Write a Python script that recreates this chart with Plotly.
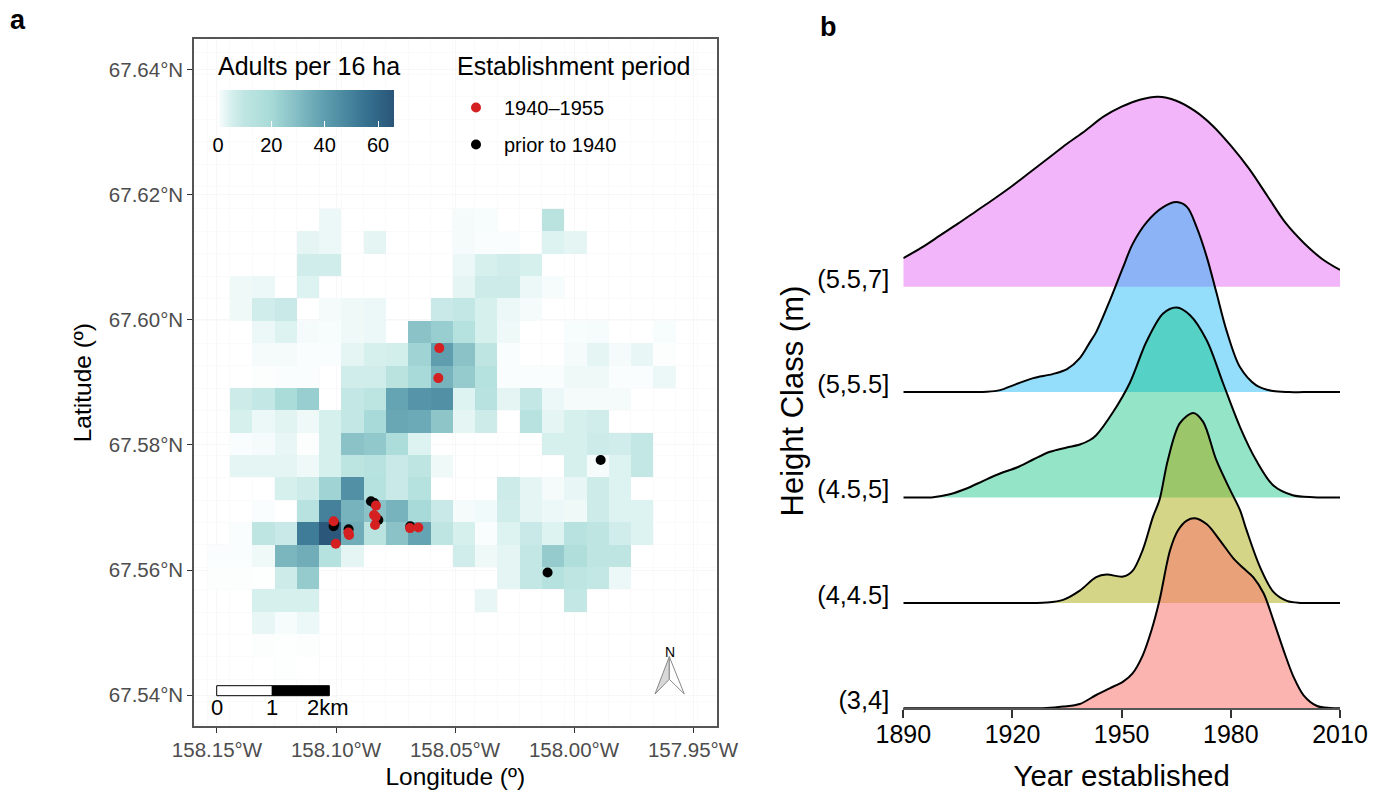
import plotly.graph_objects as go

W, H = 1386, 792

# ---------- panel a data ----------
# adults per 16 ha, rows north to south, columns west to east (None = no adults)
_ = None
adults_per_16ha = [
    [_,_,_,_,_,2,_,_,_,_,_,1,.7,_,_,12,_,_,_,_,_],
    [_,_,_,_,3,2,_,3,_,_,_,1,.5,.5,_,4,3,_,_,_,_],
    [_,_,_,_,6,6,_,_,_,_,_,2,5,6,5,_,_,_,_,_,_],
    [_,1.5,2,_,4,_,_,_,_,_,_,3,7,7,2,.8,_,_,_,_,_],
    [_,1.5,6,8,_,1,1.5,2,_,_,8,9,5,2,1,_,_,_,_,_,_],
    [_,_,2,4,1,.7,1.5,2,_,28,24,14,5,1.5,_,_,.7,.8,_,_,.7],
    [_,_,1,1,.5,.5,3,5,5.5,22,40,28,10,.5,_,_,1,3,1,2.5,.3],
    [_,_,.3,.5,.5,_,6,6,12,20,33,25,14,.5,.5,.5,1.5,1.5,.5,.5,2],
    [_,7,9,19,24,_,9,11,38,43,45,4,13,3,9,2,1,1,1,_,_],
    [_,5,2,3.5,1.5,5,9,20,37,36,27,3,7,_,13,3,5,6,_,_,_],
    [_,.5,1,2.5,.3,5,28,26,18,4,_,_,_,_,_,5,5,7,6,9,_],
    [_,3,3,3,1.5,5,11,13,8,10,1.5,_,_,_,_,_,5,1,4,9,_],
    [_,_,_,5,7,22,45,14,8,14,_,_,_,7,3,1,2.5,7,4,_,_],
    [_,_,.5,_,13,50,33,28,33,20,8,1,1.2,6,3,2,1.5,7,4,4,_],
    [_,.5,10,8,52,65,35,12,28,38,10,5,.5,4,8,4,13,10,6,4,_],
    [.5,.5,1.5,32,35,14,3,_,_,_,_,6,1.5,3,9,25,17,10,10,_,_],
    [.3,.3,.2,7,25,_,_,_,_,_,_,_,_,3,9,14,10,9,2,_,_],
    [_,_,5,5,5,_,_,_,_,_,_,_,2.5,_,_,_,9,_,_,_,_],
    [_,_,2.5,.8,2,_,_,_,_,_,_,_,_,_,_,_,_,_,_,_,_],
    [_,_,.3,.2,.3,_,_,_,_,_,_,_,_,_,_,_,_,_,_,_,_],
    [_,_,_,.2,_,_,_,_,_,_,_,_,_,_,_,_,_,_,_,_,_],
]
cell_lon_start = -158.1492
cell_lon_step = 0.009357
cell_lat_south = 67.5443
cell_lat_step = 0.003584

lon_1940_1955 = [
    -158.0566, -158.0570, -158.1010, -158.1001, -158.0948, -158.0945,
    -158.0832, -158.0840, -158.0833, -158.0836, -158.0689, -158.0654]
lat_1940_1955 = [
    67.5955, 67.5907, 67.5678, 67.5642, 67.5660, 67.5656,
    67.5703, 67.5688, 67.5685, 67.5672, 67.5667, 67.5668]
lon_prior_1940 = [
    -158.1010, -158.1007, -158.0947, -158.0853, -158.0839, -158.0822,
    -158.0688, -158.0111, -157.9888]
lat_prior_1940 = [
    67.5670, 67.5674, 67.5665, 67.5710, 67.5707, 67.5680,
    67.5670, 67.5596, 67.5776]

# ---------- panel b data ----------
height_classes = ["(3,4]", "(4,4.5]", "(4.5,5]", "(5,5.5]", "(5.5,7]"]
ridge_spacing = 105.4

yr_pink = [1890,1895,1900,1905,1910,1915,1920,1925,1930,1935,1940,1945,1950,1955,1960,1965,1970,1975,1980,1985,1990,1995,2000,2005,2010]
d_pink = [28.5,39,51,63,75.5,88,101,115,129,143,156,170,180,187,190,186,176,161,141,118,91,64,44,28,16.7]

yr_blue = [1890,1900,1909,1913,1916.6,1921,1925.7,1931,1935,1938.5,1941.3,1943,1946.8,1950.4,1953,1956.9,1961.4,1965.1,1968,1970.6,1973.4,1976,1978.8,1982.5,1987,1991.6,1996,2000,2010]
d_blue = [0,0,0,.3,2,8,14,18,23,34,50,60,92,125,148,170,185,190,185,165,135,100,61.7,25,6.7,1,0,0,0]

yr_green = [1890,1894,1898.2,1902.8,1907.4,1912,1916.6,1921.2,1925.7,1930.3,1934.9,1938.5,1941.3,1943,1947.7,1952.3,1956.8,1961.4,1965.1,1968.8,1973.4,1977.9,1982.5,1987,1991.7,1997,2002.7,2006,2010]
d_green = [0,0,.3,3.3,9,16.7,24,30,38,45.7,50,53,57.5,62.3,85.7,115,155.7,184,190,182.3,157,114,70.7,37,12,2.3,.3,0,0]

yr_olive = [1890,1910,1925,1929.4,1933.9,1938.5,1943,1945.9,1950.4,1953,1955.8,1958.6,1960.4,1962.7,1966,1969.7,1972.4,1976,1979.8,1982.5,1984.3,1988,1991.7,1995.4,1999,2003,2010]
d_olive = [0,0,0,.3,3,12.3,25.7,28.3,26.3,32,53,86,103,143,179.7,190,181,143,113,93,73,36,11,2,0,0,0]

yr_red = [1890,1910,1925,1929.4,1933.9,1938.5,1943,1946.7,1950.4,1953,1955.8,1958.2,1960.4,1963.3,1965.5,1967.9,1970.1,1973.4,1977,1980.7,1983.5,1986.2,1989,1991.7,1994.5,1997.2,2000,2003.7,2007.3,2010]
d_red = [0,0,0,.2,1.7,4.3,13.3,20,26.7,35,53,78,108,158,178,187.7,190,184,168,150,140,131,115,88,58,31.7,13,2.3,.3,0]

ridges = [
    (yr_pink, d_pink, "rgba(231,107,243,0.5)", 4),
    (yr_blue, d_blue, "rgba(0,176,246,0.42)", 3),
    (yr_green, d_green, "rgba(0,191,125,0.42)", 2),
    (yr_olive, d_olive, "rgba(163,165,0,0.47)", 1),
    (yr_red, d_red, "rgba(248,118,109,0.55)", 0),
]

# ---------- styling ----------
FONT = "Liberation Sans"
def fx(px): return px / W
def fy(py): return 1 - py / H

fig = go.Figure()

colorscale = [[0, "#FFFFFF"], [0.02, "#F0FAF9"], [0.08, "#D4EFED"], [0.15, "#BFE5E2"],
              [0.3, "#A8DBD8"], [0.6, "#5F9FB0"], [0.85, "#35708F"], [1, "#2A5578"]]
fig.add_trace(go.Heatmap(
    z=adults_per_16ha[::-1],
    x0=cell_lon_start, dx=cell_lon_step,
    y0=cell_lat_south, dy=cell_lat_step,
    zmin=0, zmax=66, colorscale=colorscale, hoverongaps=False,
    xaxis="x", yaxis="y",
    colorbar=dict(
        orientation="h", x=fx(218), xanchor="left", y=fy(162), yanchor="bottom",
        lenmode="pixels", len=176, thickness=37, xpad=0, ypad=0, outlinewidth=0,
        tickmode="array", tickvals=[0, 20, 40, 60],
        ticks="inside", ticklen=6, tickwidth=1, tickcolor="white",
        tickfont=dict(size=20, color="black", family=FONT),
    ),
))

fig.add_trace(go.Scatter(
    x=lon_prior_1940, y=lat_prior_1940, mode="markers", name="prior to 1940",
    marker=dict(color="black", size=10), legendgroup="b", legendrank=2, xaxis="x", yaxis="y"))
fig.add_trace(go.Scatter(
    x=lon_1940_1955, y=lat_1940_1955, mode="markers", name="1940\u20131955",
    marker=dict(color="#D42020", size=10), legendgroup="a", legendrank=1, xaxis="x", yaxis="y"))

for yrs, dens, col, rank in ridges:
    base = rank * ridge_spacing
    fig.add_trace(go.Scatter(x=[1890, 2010], y=[base, base], mode="lines", line=dict(width=0),
                             showlegend=False, hoverinfo="skip", xaxis="x2", yaxis="y2"))
    fig.add_trace(go.Scatter(x=yrs, y=[base + d for d in dens], mode="lines",
                             line=dict(color="black", width=2, shape="spline", smoothing=0.9),
                             fill="tonexty", fillcolor=col, showlegend=False,
                             name=height_classes[rank], xaxis="x2", yaxis="y2"))

# decorations: scale bar and north arrow
shapes = [
    dict(type="rect", xref="paper", yref="paper", x0=fx(216.7), x1=fx(272.3), y0=fy(695.7), y1=fy(685.7),
         fillcolor="white", line=dict(color="black", width=1)),
    dict(type="rect", xref="paper", yref="paper", x0=fx(272.3), x1=fx(329.3), y0=fy(695.7), y1=fy(685.7),
         fillcolor="black", line=dict(color="black", width=1)),
    dict(type="path", xref="paper", yref="paper", fillcolor="#D8D8D8", line=dict(color="#888888", width=1),
         path=f"M {fx(669.3)} {fy(656.7)} L {fx(655)} {fy(694)} L {fx(669.3)} {fy(679.3)} Z"),
    dict(type="path", xref="paper", yref="paper", fillcolor="#FFFFFF", line=dict(color="#888888", width=1),
         path=f"M {fx(669.3)} {fy(656.7)} L {fx(684.3)} {fy(694)} L {fx(669.3)} {fy(679.3)} Z"),
]

def note(text, x, y, size, **kw):
    return dict(text=text, xref="paper", yref="paper", x=fx(x), y=fy(y), showarrow=False,
                xanchor=kw.pop("xanchor", "center"), yanchor="middle",
                font=dict(size=size, color="black", family=FONT), **kw)

annotations = [
    note("<b>a</b>", 18, 20, 27),
    note("<b>b</b>", 828, 27, 27),
    note("0", 216.7, 707, 22),
    note("1", 272.3, 707, 22),
    note("2km", 328, 707, 22),
    note("N", 669.5, 652, 14),
    note("Adults per 16 ha", 216, 66, 25, xanchor="left"),
    note("Establishment period", 455, 66, 25, xanchor="left"),
    note("Height Class (m)", 792, 401.5, 31, textangle=-90),
]

fig.update_layout(
    template="none",
    width=W, height=H, margin=dict(l=0, r=0, t=0, b=0),
    paper_bgcolor="white", plot_bgcolor="white",
    font=dict(family=FONT, color="black"),
    shapes=shapes, annotations=annotations,
    legend=dict(x=fx(448), y=fy(88), xanchor="left", yanchor="top",
                bgcolor="rgba(0,0,0,0)", tracegroupgap=8, itemwidth=46,
                font=dict(size=20, family=FONT, color="black")),
    xaxis=dict(
        domain=[fx(194), fx(716.5)], range=[-158.15966, -157.94013], automargin=False,
        tickmode="array", tickvals=[-158.15, -158.10, -158.05, -158.00, -157.95],
        ticktext=["158.15\u00b0W", "158.10\u00b0W", "158.05\u00b0W", "158.00\u00b0W", "157.95\u00b0W"],
        tickfont=dict(size=20.5, color="#4D4D4D"), ticks="outside", ticklen=5, tickcolor="#333333",
        showline=True, linecolor="#555555", linewidth=1.5, mirror=True,
        showgrid=True, gridcolor="#F7F7F7", gridwidth=1, zeroline=False,
        minor=dict(showgrid=True, gridcolor="#FAFAFA", gridwidth=1, tick0=-158.1539, dtick=cell_lon_step, ticks=""),
        title=dict(text="Longitude (\u00ba)", font=dict(size=24.5), standoff=8),
    ),
    yaxis=dict(
        domain=[fy(726), fy(39.3)], range=[67.53504, 67.64491], automargin=False,
        tickmode="array", tickvals=[67.54, 67.56, 67.58, 67.60, 67.62, 67.64],
        ticktext=["67.54\u00b0N", "67.56\u00b0N", "67.58\u00b0N", "67.60\u00b0N", "67.62\u00b0N", "67.64\u00b0N"],
        tickfont=dict(size=20.5, color="#4D4D4D"), ticks="outside", ticklen=5, tickcolor="#333333",
        showline=True, linecolor="#555555", linewidth=1.5, mirror=True,
        showgrid=True, gridcolor="#F7F7F7", gridwidth=1, zeroline=False,
        minor=dict(showgrid=True, gridcolor="#FAFAFA", gridwidth=1, tick0=67.5425, dtick=cell_lat_step, ticks=""),
        title=dict(text="Latitude (\u00ba)", font=dict(size=24.5), standoff=10),
    ),
    xaxis2=dict(
        domain=[fx(903.3), fx(1340)], range=[1890, 2010], anchor="y2", automargin=False,
        tickmode="array", tickvals=[1890, 1920, 1950, 1980, 2010],
        tickfont=dict(size=25), ticks="outside", ticklen=8, tickcolor="#333333", tickwidth=1.5,
        ticklabelstandoff=-5,
        showline=True, linecolor="#555555", linewidth=1.5, showgrid=False, zeroline=False,
        title=dict(text="Year established", font=dict(size=29.4), standoff=18),
    ),
    yaxis2=dict(
        domain=[fy(708.3), fy(60)], range=[0, 648.3], anchor="x2", automargin=False,
        tickmode="array", tickvals=[i * ridge_spacing + 8 for i in range(5)], ticktext=height_classes,
        tickfont=dict(size=25.4), ticks="outside", ticklen=8, tickcolor="rgba(0,0,0,0)",
        showline=False, showgrid=False, zeroline=False,
    ),
)

fig.write_html("out.html", config={"displayModeBar": False}, post_script="document.body.style.margin='0';")
